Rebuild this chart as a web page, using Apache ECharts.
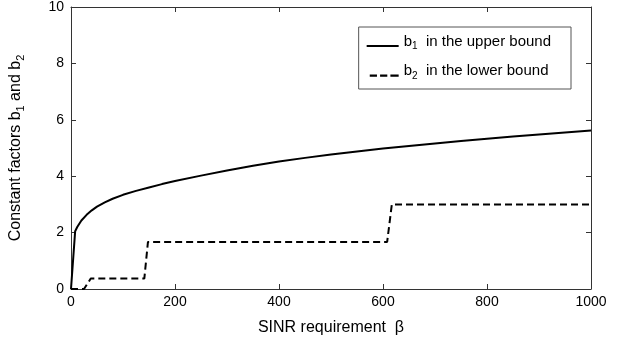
<!DOCTYPE html>
<html><head><meta charset="utf-8">
<script src="https://cdn.jsdelivr.net/npm/echarts@6/dist/echarts.min.js"></script>
<style>html,body{margin:0;padding:0;background:#fff}#c{width:624px;height:346px}</style>
</head><body><div id="c"></div>
<script>
// Upper-bound factor b1
var b1Beta = [0, 8, 12, 20, 30, 40, 50, 65, 80, 100, 125, 150, 175, 200, 250, 300, 350, 400, 450, 500, 550, 600, 650, 700, 750, 800, 850, 900, 950, 1000];
var b1Vals = [0, 2.05, 2.2, 2.43, 2.63, 2.79, 2.92, 3.07, 3.2, 3.34, 3.48, 3.6, 3.72, 3.83, 4.02, 4.2, 4.37, 4.52, 4.65, 4.77, 4.88, 4.98, 5.07, 5.16, 5.25, 5.33, 5.41, 5.48, 5.55, 5.62];
// Lower-bound factor b2 (step function)
var b2Beta = [0, 25, 38, 141, 148, 608, 617, 1000];
var b2Vals = [0, 0, 0.37, 0.37, 1.67, 1.67, 3.0, 3.0];
var xTicks = [0, 200, 400, 600, 800, 1000];
var yTicks = [0, 2, 4, 6, 8, 10];

function pairs(xs, ys){ return xs.map(function(x,i){ return [x, ys[i]]; }); }

var font = 'Liberation Sans, Arial, sans-serif';
var frame = '#333';
var tickCfg = {show:true, inside:true, length:5, lineStyle:{color:frame, width:1}};
var lineCfg = {show:true, onZero:false, lineStyle:{color:frame,width:1}};
var chart = echarts.init(document.getElementById('c'), null, {renderer:'canvas'});
chart.setOption({
  animation:false,
  backgroundColor:'#fff',
  grid:{left:71, top:7, right:33, bottom:57, containLabel:false},
  legend:{
    right: 53, top: 27, orient:'vertical', itemGap:12, itemWidth:32, itemHeight:12,
    padding:[7,20,8,8],
    borderColor:'#555', borderWidth:1, backgroundColor:'#fff',
    data:[
      {name:'b1', icon:'path://M0,0h0.01v0.01h-0.01z M0,9h32v2h-32z'},
      {name:'b2', icon:'path://M0,0h0.01v0.01h-0.01z M3,9h7v2h-7z M13,9h7v2h-7z M23,9h8v2h-8z'}
    ],
    itemStyle:{color:'#000'},
    textStyle:{fontFamily:font, fontSize:15, color:'#000',
      rich:{n:{fontFamily:font,fontSize:15,color:'#000'}, s:{fontFamily:font,fontSize:10,color:'#000',padding:[10,0,0,0]}}},
    formatter:function(n){
      return n==='b1' ? '{n|b}{s|1}{n|  in the upper bound}' : '{n|b}{s|2}{n|  in the lower bound}';
    }
  },
  xAxis:[{
    type:'value', min:0, max:1000, interval:200,
    axisLine:lineCfg, axisTick:tickCfg, splitLine:{show:false},
    axisLabel:{fontFamily:font, fontSize:14, color:'#000', margin:6, formatter:function(v){return String(v);}},
    name:'SINR requirement  β', nameLocation:'middle', nameGap:31,
    nameTextStyle:{fontFamily:font, fontSize:16, color:'#000'}
  },{
    type:'value', min:0, max:1000, interval:200, position:'top',
    axisLine:lineCfg, axisTick:tickCfg, axisLabel:{show:false}, splitLine:{show:false}
  }],
  yAxis:[{
    type:'value', min:0, max:10, interval:2,
    axisLine:lineCfg, axisTick:tickCfg, splitLine:{show:false},
    axisLabel:{fontFamily:font, fontSize:14, color:'#000', margin:7},
    name:'{n|Constant factors b}{s|1}{n| and b}{s|2}', nameLocation:'middle', nameGap:45, nameRotate:90,
    nameTextStyle:{fontFamily:font, fontSize:16, color:'#000',
      rich:{n:{fontFamily:font,fontSize:16,color:'#000'}, s:{fontFamily:font,fontSize:11,color:'#000',padding:[9,0,0,0]}}}
  },{
    type:'value', min:0, max:10, interval:2, position:'right',
    axisLine:lineCfg, axisTick:tickCfg, axisLabel:{show:false}, splitLine:{show:false}
  }],
  series:[{
    name:'b1', type:'line', data:pairs(b1Beta,b1Vals), smooth:false, showSymbol:false, symbol:'none',
    lineStyle:{color:'#000', width:2, type:'solid'}, itemStyle:{color:'#000'}
  },{
    name:'b2', type:'line', data:pairs(b2Beta,b2Vals), showSymbol:false, symbol:'none',
    lineStyle:{color:'#000', width:2, type:[7,4]}, itemStyle:{color:'#000'}
  }]
});
</script></body></html>
